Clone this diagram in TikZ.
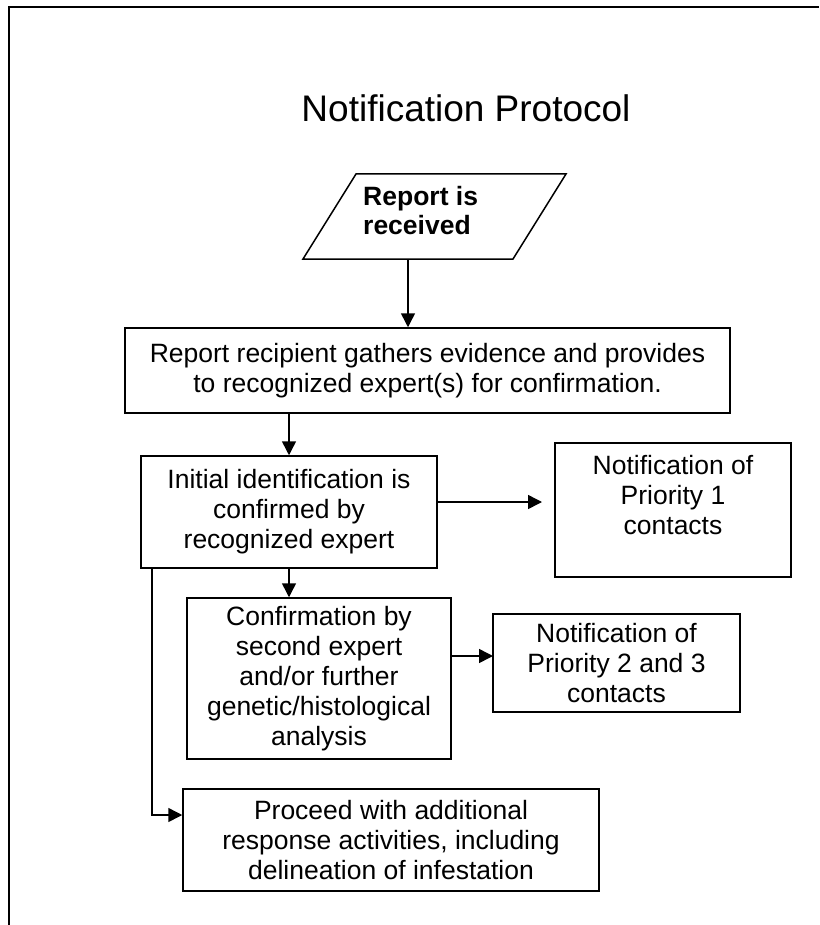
\documentclass[tikz,border=0pt]{standalone}
\usepackage{fontspec}
\setmainfont{Liberation Sans}
\usetikzlibrary{arrows.meta}

\tikzset{
  box/.style={draw, line width=1.5pt, align=center, inner sep=0pt,
    font=\fontsize{26.5}{30}\selectfont},
  flow/.style={-{Triangle[length=14pt,width=14pt]}, line width=1.5pt},
}

\begin{document}
\begin{tikzpicture}[x=1pt, y=-1pt]
  \useasboundingbox (0,0) rectangle (819,925);
  % frame
  \draw[line width=2pt] (9,925) -- (9,7) -- (819,7);

  \node[anchor=base, font=\fontsize{37}{44}\selectfont] (title) at (466,122) {Notification Protocol};

  % input (parallelogram)
  \draw[line width=1.5pt] (303,259) -- (356,174) -- (566,174) -- (513,259) -- cycle;
  \node[anchor=north west, align=left, inner sep=0pt,
        font=\fontsize{26.5}{29}\selectfont\bfseries] (report) at (363,186) {Report is\\received};
  \coordinate (rcvbot) at (408,259);

  \node[box, minimum width=605pt, minimum height=85pt] (gather) at (427.5,370.5)
    {Report recipient gathers evidence and provides\\to recognized expert(s) for confirmation.};
  \node[box, minimum width=296pt, minimum height=112pt] (initial) at (289,512)
    {Initial identification is\\confirmed by\\recognized expert};
  \node[box, minimum width=236pt, minimum height=134pt, text depth=30pt] (prio1) at (673,510)
    {Notification of\\Priority 1\\contacts};
  \node[box, minimum width=264pt, minimum height=161pt] (second) at (319,678.5)
    {Confirmation by\\second expert\\and/or further\\genetic/histological\\analysis};
  \node[box, minimum width=247pt, minimum height=98pt] (prio2) at (616.5,663)
    {Notification of\\Priority 2 and 3\\contacts};
  \node[box, minimum width=416pt, minimum height=102pt] (proceed) at (391,840)
    {Proceed with additional\\response activities, including\\delineation of infestation};

  \coordinate (p1in) at (542,502);
  \coordinate (p2in) at (493,656);
  \coordinate (bend) at (152,815);

  \draw[flow] (rcvbot) -- (rcvbot |- gather.north);
  \draw[flow] (gather.south -| initial.north) -- (initial.north);
  \draw[flow] (initial.east |- p1in) -- (p1in);
  \draw[flow] (initial.south) -- (initial.south |- second.north);
  \draw[flow] (second.east |- p2in) -- (p2in);
  \draw[flow] (initial.south -| bend) -- (bend) -- (bend -| proceed.west);
\end{tikzpicture}
\end{document}
